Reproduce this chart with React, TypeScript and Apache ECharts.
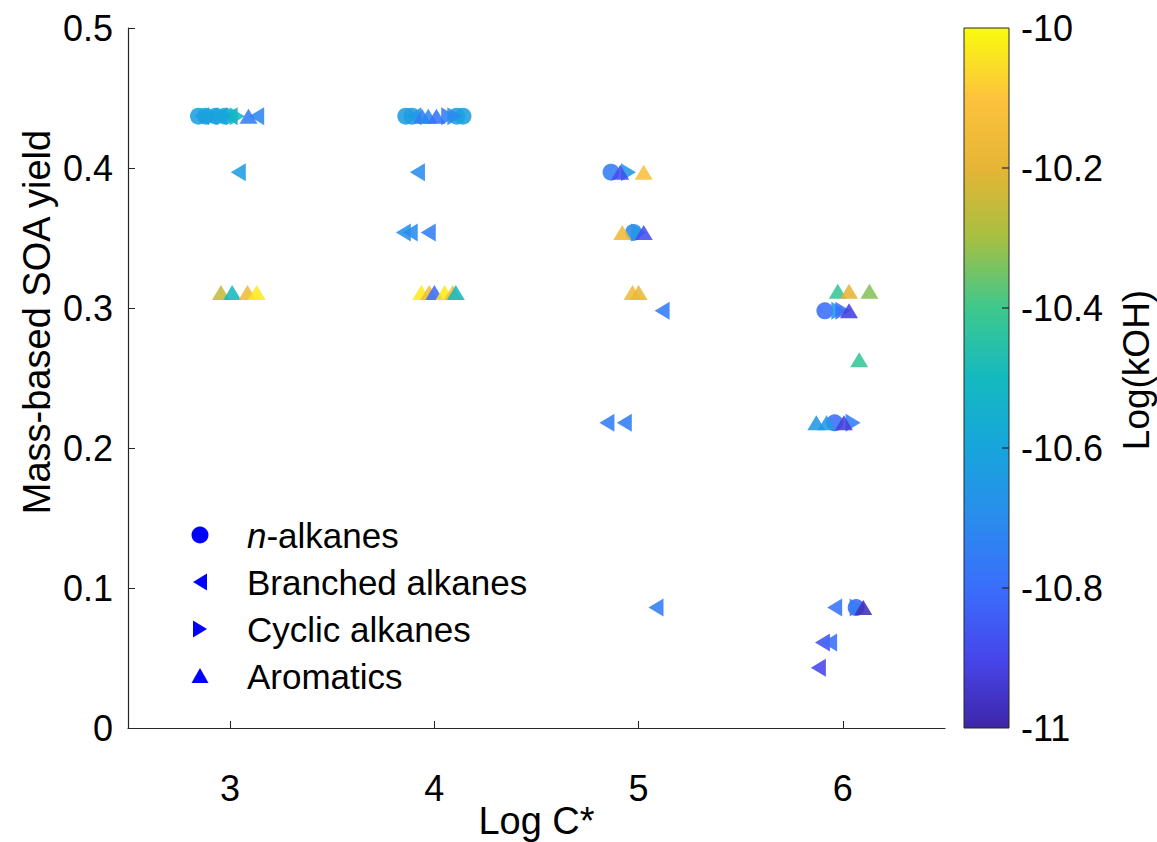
import React, { useEffect, useRef } from "react";
import * as echarts from "echarts";

// Tick values
const xTicks = [3, 4, 5, 6];
const colorTicks = [-10, -10.2, -10.4, -10.6, -10.8, -11];
const colorMin = -11;
const colorMax = -10;

// parula-like colour stops from -11 (low) to -10 (high)
const parula = [
  "#3e26a8", "#4746eb", "#3a6efc", "#2a8ced", "#17a5dc", "#14b9c0",
  "#3ec88d", "#a6c042", "#e6b535", "#fdc23d", "#f9fb0e",
];

// [Log C*, mass-based SOA yield, Log(kOH)]
const nAlkanes: number[][] = [
  [2.845, 0.437, -10.62], [2.88, 0.437, -10.62], [2.93, 0.437, -10.6], [2.975, 0.437, -10.6],
  [3.86, 0.437, -10.63], [3.89, 0.437, -10.63], [4.11, 0.437, -10.62], [4.14, 0.437, -10.62],
  [4.865, 0.397, -10.75], [4.975, 0.354, -10.72],
  [5.912, 0.298, -10.8], [5.96, 0.218, -10.8], [6.065, 0.086, -10.82],
];
const branched: number[][] = [
  [2.86, 0.437, -10.62], [2.905, 0.437, -10.62], [2.95, 0.437, -10.6], [3.0, 0.437, -10.6],
  [3.13, 0.437, -10.72], [3.04, 0.397, -10.63],
  [3.9, 0.437, -10.65], [3.917, 0.397, -10.7],
  [3.848, 0.354, -10.68], [3.882, 0.354, -10.7], [3.97, 0.354, -10.75],
  [5.115, 0.298, -10.75], [4.845, 0.218, -10.75], [4.93, 0.218, -10.75], [5.085, 0.086, -10.75],
  [5.96, 0.086, -10.78], [5.9, 0.061, -10.87], [5.935, 0.061, -10.8], [5.88, 0.043, -10.9],
];
const cyclic: number[][] = [
  [3.035, 0.437, -10.5], [4.07, 0.437, -10.75], [4.1, 0.437, -10.7],
  [4.95, 0.397, -10.65], [5.0, 0.354, -10.65],
  [5.98, 0.298, -10.65], [6.0, 0.298, -10.8], [6.05, 0.218, -10.75], [6.07, 0.086, -10.75],
];
const aromatics: number[][] = [
  [3.09, 0.437, -10.75],
  [2.955, 0.311, -10.25], [3.01, 0.311, -10.5], [3.085, 0.311, -10.15], [3.13, 0.311, -10.03],
  [3.94, 0.437, -10.75], [3.97, 0.437, -10.72], [4.01, 0.437, -10.78],
  [3.936, 0.311, -10.03], [3.975, 0.311, -10.15], [4.0, 0.311, -10.8], [4.05, 0.311, -10.03],
  [4.09, 0.311, -10.12], [4.105, 0.311, -10.5],
  [4.91, 0.397, -10.88], [5.025, 0.397, -10.12], [4.92, 0.354, -10.15], [5.025, 0.354, -10.88],
  [4.97, 0.311, -10.15], [5.0, 0.311, -10.18],
  [5.975, 0.312, -10.42], [6.03, 0.312, -10.2], [6.13, 0.312, -10.33], [6.03, 0.298, -10.92],
  [6.08, 0.263, -10.42], [5.87, 0.218, -10.65], [5.92, 0.218, -10.65], [6.005, 0.218, -10.92],
  [6.1, 0.086, -10.97],
];

const legendNames = ["n-alkanes", "Branched alkanes", "Cyclic alkanes", "Aromatics"];
const xTitle = "Log C*";
const yTitle = "Mass-based SOA yield";
const cbTitle = "Log(kOH)";

const FONT = "'Liberation Sans', Arial, Helvetica, sans-serif";
const AX = "#262626";

const SYM_LEFT = "path://M0,5L10,0L10,10Z";
const SYM_RIGHT = "path://M10,5L0,0L0,10Z";
const SYM_UP = "path://M5,0L10,8.7L0,8.7Z";

export default function App() {
  const ref = useRef<HTMLDivElement>(null);

  useEffect(() => {
    if (!ref.current) return;
    const chart = echarts.init(ref.current, undefined, { renderer: "svg" });

    const gridLeft = 128;
    const gridTop = 28;
    const gridW = 817;
    const gridH = 700;

    const cbX = 964;
    const cbY = gridTop;
    const cbW = 45;
    const cbH = gridH;

    const stops = parula
      .map((c, i) => ({ offset: 1 - i / (parula.length - 1), color: c }))
      .reverse();

    const cbGraphics: any[] = [
      {
        type: "rect",
        shape: { x: cbX, y: cbY, width: cbW, height: cbH },
        style: {
          fill: new echarts.graphic.LinearGradient(0, 0, 0, 1, stops),
          stroke: AX,
          lineWidth: 1,
        },
      },
    ];
    colorTicks.forEach((v) => {
      const yy = cbY + ((colorMax - v) / (colorMax - colorMin)) * cbH;
      if (v !== colorMax && v !== colorMin) {
        cbGraphics.push({
          type: "line",
          shape: { x1: cbX + cbW - 7, y1: yy, x2: cbX + cbW, y2: yy },
          style: { stroke: AX, lineWidth: 1.2 },
        });
      }
      cbGraphics.push({
        type: "text",
        x: cbX + cbW + 12,
        y: yy,
        style: {
          text: String(v),
          fontSize: 36,
          fontFamily: FONT,
          fill: "#000",
          align: "left",
          verticalAlign: "middle",
        },
      });
    });
    cbGraphics.push({
      type: "text",
      x: 1136,
      y: cbY + cbH / 2 - 8,
      rotation: Math.PI / 2,
      style: {
        text: cbTitle,
        fontSize: 37,
        fontFamily: FONT,
        fill: "#000",
        align: "center",
        verticalAlign: "middle",
      },
    });

    // axis titles
    const titleGraphics: any[] = [
      {
        type: "text",
        x: 37,
        y: 322,
        rotation: Math.PI / 2,
        style: {
          text: yTitle,
          fontSize: 38,
          fontFamily: FONT,
          fill: "#000",
          align: "center",
          verticalAlign: "middle",
        },
      },
      {
        type: "text",
        x: gridLeft + gridW / 2,
        y: 821,
        style: {
          text: xTitle,
          fontSize: 38,
          fontFamily: FONT,
          fill: "#000",
          align: "center",
          verticalAlign: "middle",
        },
      },
    ];

    // legend
    const lx = 200;
    const ly = [535, 582, 629, 676];
    const blue = "#0000ff";
    const legendGraphics: any[] = [
      { type: "circle", shape: { cx: lx, cy: ly[0], r: 8.5 }, style: { fill: blue } },
      {
        type: "polygon",
        shape: { points: [[lx - 7, ly[1]], [lx + 7, ly[1] - 8.5], [lx + 7, ly[1] + 8.5]] },
        style: { fill: blue },
      },
      {
        type: "polygon",
        shape: { points: [[lx + 7, ly[2]], [lx - 7, ly[2] - 8.5], [lx - 7, ly[2] + 8.5]] },
        style: { fill: blue },
      },
      {
        type: "polygon",
        shape: { points: [[lx, ly[3] - 8], [lx + 8.5, ly[3] + 7], [lx - 8.5, ly[3] + 7]] },
        style: { fill: blue },
      },
      {
        type: "text",
        x: 247,
        y: ly[0],
        style: {
          text: "{i|n}-alkanes",
          rich: { i: { fontStyle: "italic", fontSize: 35, fontFamily: FONT, fill: "#000" } },
          fontSize: 35,
          fontFamily: FONT,
          fill: "#000",
          verticalAlign: "middle",
        },
      },
    ];
    legendNames.slice(1).forEach((name, i) => {
      legendGraphics.push({
        type: "text",
        x: 247,
        y: ly[i + 1],
        style: {
          text: name,
          fontSize: 35,
          fontFamily: FONT,
          fill: "#000",
          verticalAlign: "middle",
        },
      });
    });

    const mkSeries = (name: string, data: number[][], symbol: string, size: any) => ({
      name,
      type: "scatter",
      data,
      symbol,
      symbolSize: size,
      itemStyle: { opacity: 0.88 },
      encode: { x: 0, y: 1 },
      silent: true,
    });

    chart.setOption({
      animation: false,
      backgroundColor: "#ffffff",
      textStyle: { fontFamily: FONT },
      grid: {
        left: gridLeft,
        top: gridTop,
        width: gridW,
        height: gridH,
        containLabel: false,
        outerBoundsMode: "none",
      },
      xAxis: {
        type: "value",
        min: 2.5,
        max: 6.5,
        splitLine: { show: false },
        axisLine: { show: true, onZero: false, lineStyle: { color: AX, width: 1.2 } },
        axisTick: { show: true, inside: true, length: 7, customValues: xTicks, lineStyle: { color: AX } },
        axisLabel: { customValues: xTicks, fontSize: 36, color: "#000", margin: 42, fontFamily: FONT },
      },
      yAxis: {
        type: "value",
        min: 0,
        max: 0.5,
        interval: 0.1,
        splitLine: { show: false },
        axisLine: { show: true, onZero: false, lineStyle: { color: AX, width: 1.2 } },
        axisTick: { show: true, inside: true, length: 7, lineStyle: { color: AX } },
        axisLabel: { fontSize: 36, color: "#000", margin: 15, fontFamily: FONT },
      },
      visualMap: {
        type: "continuous",
        show: false,
        min: colorMin,
        max: colorMax,
        dimension: 2,
        seriesIndex: [0, 1, 2, 3],
        inRange: { color: parula },
      },
      series: [
        mkSeries(legendNames[0], nAlkanes, "circle", 17),
        mkSeries(legendNames[1], branched, SYM_LEFT, [15, 18]),
        mkSeries(legendNames[2], cyclic, SYM_RIGHT, [15, 18]),
        mkSeries(legendNames[3], aromatics, SYM_UP, [18, 15]),
      ],
      graphic: [...cbGraphics, ...titleGraphics, ...legendGraphics],
    });

    return () => chart.dispose();
  }, []);

  return (
    <div
      ref={ref}
      style={{ position: "fixed", left: 0, top: 0, width: 1157, height: 842, background: "#fff" }}
    />
  );
}
